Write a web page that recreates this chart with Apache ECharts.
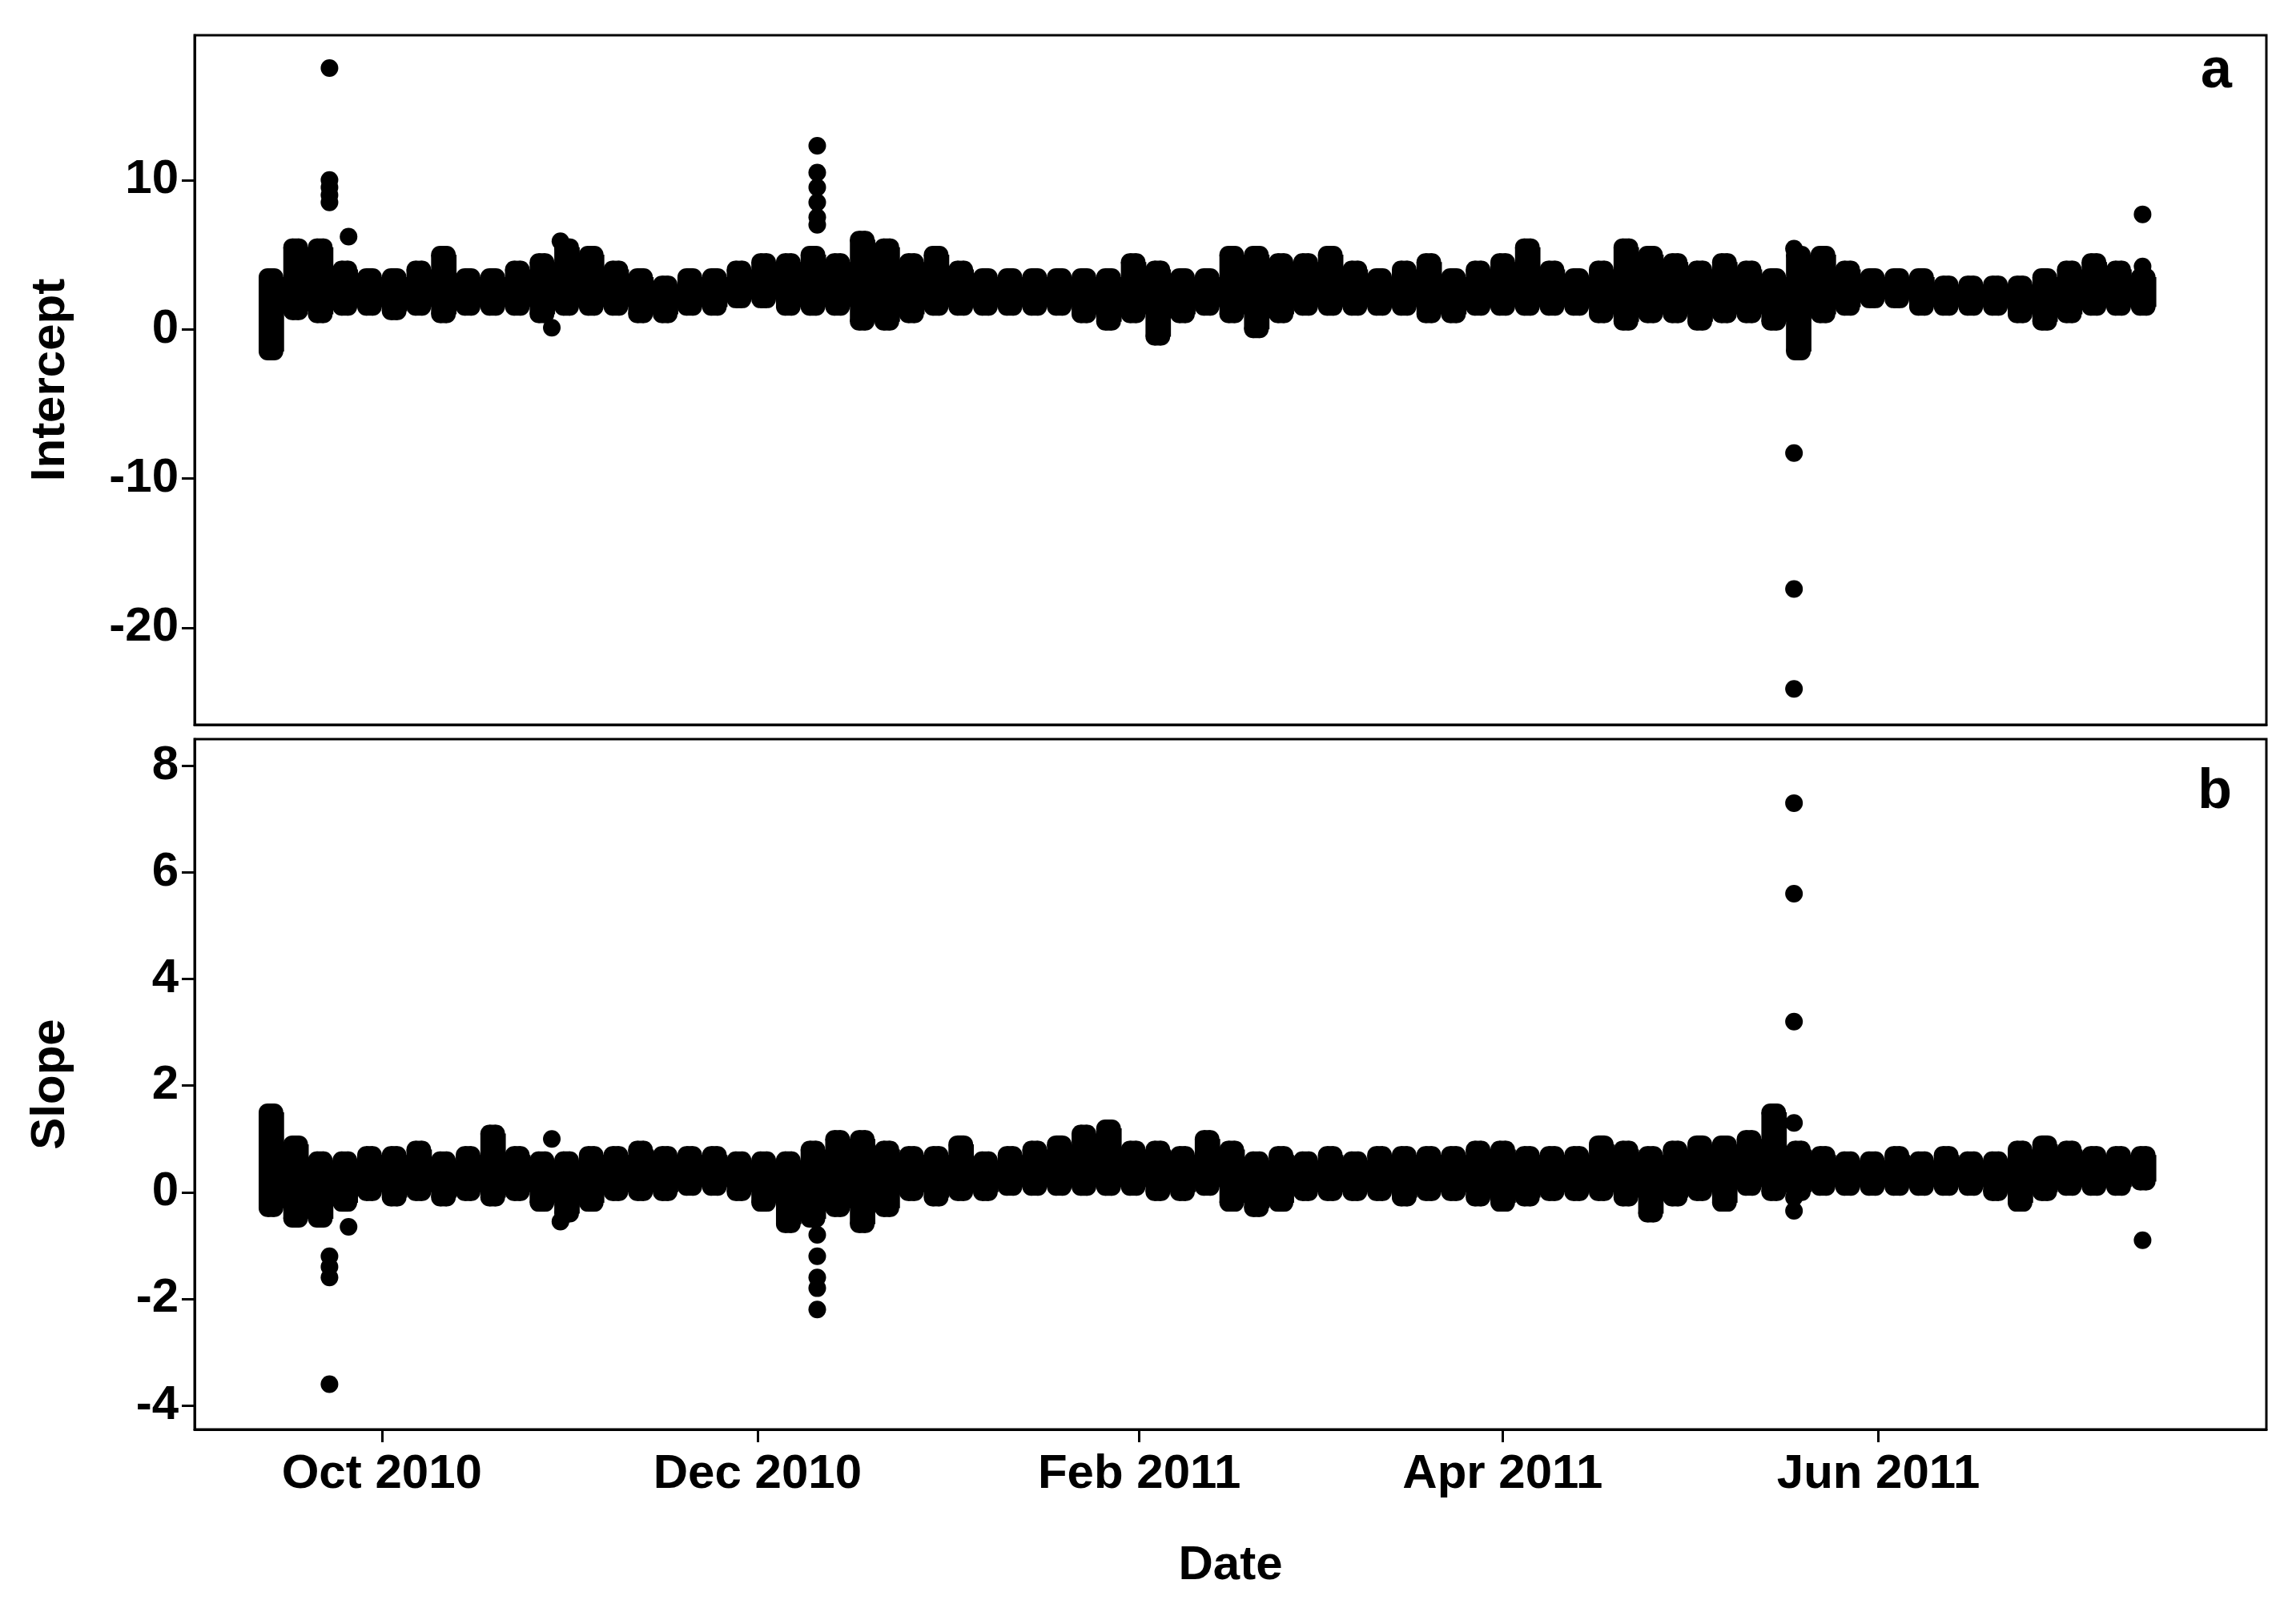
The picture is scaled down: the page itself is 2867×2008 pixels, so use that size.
<!DOCTYPE html>
<html>
<head>
<meta charset="utf-8">
<script src="https://cdn.jsdelivr.net/npm/echarts@6/dist/echarts.min.js"></script>
<style>html,body{margin:0;background:#fff}#c{width:2867px;height:2008px}</style>
</head>
<body>
<div id="c"></div>
<script>
// days counted from 13 Sep 2010, one band every 4 days
var step = 4;
var interceptLow = [-1.5,1.2,1.0,1.5,1.5,1.2,1.5,1.0,1.5,1.5,1.5,1.0,1.5,1.5,1.5,1.0,1.0,1.5,1.5,2.0,2.0,1.5,1.5,1.5,0.5,0.5,1.0,1.5,1.5,1.5,1.5,1.5,1.5,1.0,0.5,1.0,-0.5,1.0,1.5,1.0,0,1.0,1.5,1.5,1.5,1.5,1.5,1.0,1.0,1.5,1.5,1.5,1.5,1.5,1.0,0.5,1.0,1.0,0.5,1.0,1.0,0.5,-1.5,1.0,1.5,2.0,2.0,1.5,1.5,1.5,1.5,1.0,0.5,1.0,1.5,1.5,1.5];
var interceptHigh = [3.5,5.5,5.5,4.0,3.5,3.5,4.0,5.0,3.5,3.5,4.0,4.5,5.5,5.0,4.0,3.5,3.0,3.5,3.5,4.0,4.5,4.5,5.0,4.5,6.0,5.5,4.5,5.0,4.0,3.5,3.5,3.5,3.5,3.5,3.5,4.5,4.0,3.5,3.5,5.0,5.0,4.5,4.5,5.0,4.0,3.5,4.0,4.5,3.5,4.0,4.5,5.5,4.0,3.5,4.0,5.5,5.0,4.5,4.0,4.5,4.0,3.5,5.0,5.0,4.0,3.5,3.5,3.5,3.0,3.0,3.0,3.0,3.5,4.0,4.5,4.0,3.5];
var slopeLow = [-0.3,-0.5,-0.5,-0.2,0,-0.1,0,-0.1,0,-0.1,0,-0.2,-0.4,-0.2,0,0,0,0.1,0.1,0,-0.2,-0.6,-0.5,-0.3,-0.6,-0.3,0,-0.1,0,0,0.1,0.1,0.1,0.1,0.1,0.1,0,0,0.1,-0.2,-0.3,-0.2,0,0,0,0,-0.1,0,0,-0.1,-0.2,-0.1,0,0,0,-0.1,-0.4,-0.1,0,-0.2,0.1,0,0,0.1,0.1,0.1,0.1,0.1,0.1,0.1,0,-0.2,0,0.1,0.1,0.1,0.2];
var slopeHigh = [1.5,0.9,0.6,0.6,0.7,0.7,0.8,0.6,0.7,1.1,0.7,0.6,0.6,0.7,0.7,0.8,0.7,0.7,0.7,0.6,0.6,0.6,0.8,1.0,1.0,0.8,0.7,0.7,0.9,0.6,0.7,0.8,0.9,1.1,1.2,0.8,0.8,0.7,1.0,0.8,0.6,0.7,0.6,0.7,0.6,0.7,0.7,0.7,0.7,0.8,0.8,0.7,0.7,0.7,0.9,0.8,0.7,0.8,0.9,0.9,1.0,1.5,0.8,0.7,0.6,0.6,0.7,0.6,0.7,0.6,0.6,0.8,0.9,0.8,0.7,0.7,0.7];
var interceptOutliers = [[9.5,17.5],[9.5,10],[9.5,9.5],[9.5,9],[9.5,8.5],[12.6,6.2],[45.6,0.1],[47,5.9],[88.7,12.3],[88.7,10.5],[88.7,9.5],[88.7,8.5],[88.7,7.5],[88.7,7],[247.3,5.4],[247.3,-8.3],[247.3,-17.4],[247.3,-24.1],[303.9,7.7],[303.9,4.2]];
var slopeOutliers = [[9.5,-1.2],[9.5,-1.4],[9.5,-1.6],[9.5,-3.6],[12.6,-0.65],[45.6,1.0],[47,-0.55],[88.7,-0.8],[88.7,-1.2],[88.7,-1.6],[88.7,-1.8],[88.7,-2.2],[247.3,7.3],[247.3,5.6],[247.3,3.2],[247.3,1.3],[247.3,-0.1],[247.3,-0.35],[303.9,-0.9]];
var monthDays = [18,79,141,200,261];
var monthLabels = ['Oct 2010','Dec 2010','Feb 2011','Apr 2011','Jun 2011'];
var interceptTicks = [-20,-10,0,10];
var slopeTicks = [-4,-2,0,2,4,6,8];

function bandData(lo, hi) {
  var out = [];
  for (var i = 0; i < Math.min(lo.length, hi.length); i++) out.push([i * step, lo[i], hi[i]]);
  return out;
}
function renderBand(params, api) {
  var a = api.coord([api.value(0), api.value(2)]);
  var b = api.coord([api.value(0), api.value(1)]);
  var w = api.size([step, 0])[0];
  var x0 = a[0] - w / 2, r = 11;
  return {type: 'group', children: [
    {type: 'rect', shape: {x: x0, y: a[1], width: w + 1, height: Math.max(b[1] - a[1], 0)}, style: {fill: '#000'}},
    {type: 'circle', shape: {cx: x0 + r, cy: a[1], r: r}, style: {fill: '#000'}},
    {type: 'circle', shape: {cx: x0 + w - r, cy: a[1], r: r}, style: {fill: '#000'}},
    {type: 'circle', shape: {cx: x0 + r, cy: b[1], r: r}, style: {fill: '#000'}},
    {type: 'circle', shape: {cx: x0 + w - r, cy: b[1], r: r}, style: {fill: '#000'}},
    {type: 'rect', shape: {x: x0 + r, y: a[1] - r, width: w - 2 * r, height: Math.max(b[1] - a[1], 0) + 2 * r}, style: {fill: '#000'}}
  ]};
}
var ff = 'Liberation Sans, Arial';
function xAx(idx, show) {
  return {type: 'value', gridIndex: idx, min: -12.4, max: 324,
    axisLine: {show: true, onZero: false, lineStyle: {color: '#000', width: 3}}, splitLine: {show: false},
    axisTick: {show: show, length: 16, lineStyle: {color: '#000', width: 3}, customValues: monthDays},
    axisLabel: {show: show, fontSize: 60, margin: 26, fontFamily: ff, fontWeight: 'bold', color: '#000',
      customValues: monthDays, formatter: function (v) { return monthLabels[monthDays.indexOf(v)] || ''; }},
    name: show ? 'Date' : '', nameLocation: 'middle', nameGap: 140,
    nameTextStyle: {fontSize: 60, fontFamily: ff, fontWeight: 'bold', color: '#000'}};
}
function yAx(idx, min, max, ticks, name) {
  return {type: 'value', gridIndex: idx, min: min, max: max,
    axisLine: {show: true, onZero: false, lineStyle: {color: '#000', width: 3}}, splitLine: {show: false},
    axisTick: {show: true, length: 16, lineStyle: {color: '#000', width: 3}, customValues: ticks},
    axisLabel: {fontSize: 60, margin: 20, fontFamily: ff, fontWeight: 'bold', color: '#000', customValues: ticks},
    name: name, nameLocation: 'middle', nameGap: 150, nameRotate: 90,
    nameTextStyle: {fontSize: 60, fontFamily: ff, fontWeight: 'bold', color: '#000'}};
}
var chart = echarts.init(document.getElementById('c'));
chart.setOption({
  backgroundColor: '#fff',
  animation: false,
  grid: [
    {left: 243, right: 37, top: 44, height: 861, show: true, borderColor: '#000', borderWidth: 3, backgroundColor: 'transparent'},
    {left: 243, right: 37, top: 923, height: 862, show: true, borderColor: '#000', borderWidth: 3, backgroundColor: 'transparent'}
  ],
  title: [
    {text: 'a', right: 75, top: 50, textStyle: {fontSize: 70, fontFamily: ff, fontWeight: 'bold', color: '#000'}},
    {text: 'b', right: 75, top: 950, textStyle: {fontSize: 70, fontFamily: ff, fontWeight: 'bold', color: '#000'}}
  ],
  xAxis: [xAx(0, false), xAx(1, true)],
  yAxis: [yAx(0, -26.5, 19.7, interceptTicks, 'Intercept'), yAx(1, -4.45, 8.5, slopeTicks, 'Slope')],
  series: [
    {type: 'custom', xAxisIndex: 0, yAxisIndex: 0, renderItem: renderBand, data: bandData(interceptLow, interceptHigh), clip: true},
    {type: 'scatter', xAxisIndex: 0, yAxisIndex: 0, symbolSize: 22, itemStyle: {color: '#000', opacity: 1}, data: interceptOutliers},
    {type: 'custom', xAxisIndex: 1, yAxisIndex: 1, renderItem: renderBand, data: bandData(slopeLow, slopeHigh), clip: true},
    {type: 'scatter', xAxisIndex: 1, yAxisIndex: 1, symbolSize: 22, itemStyle: {color: '#000', opacity: 1}, data: slopeOutliers}
  ]
});
</script>
</body>
</html>
